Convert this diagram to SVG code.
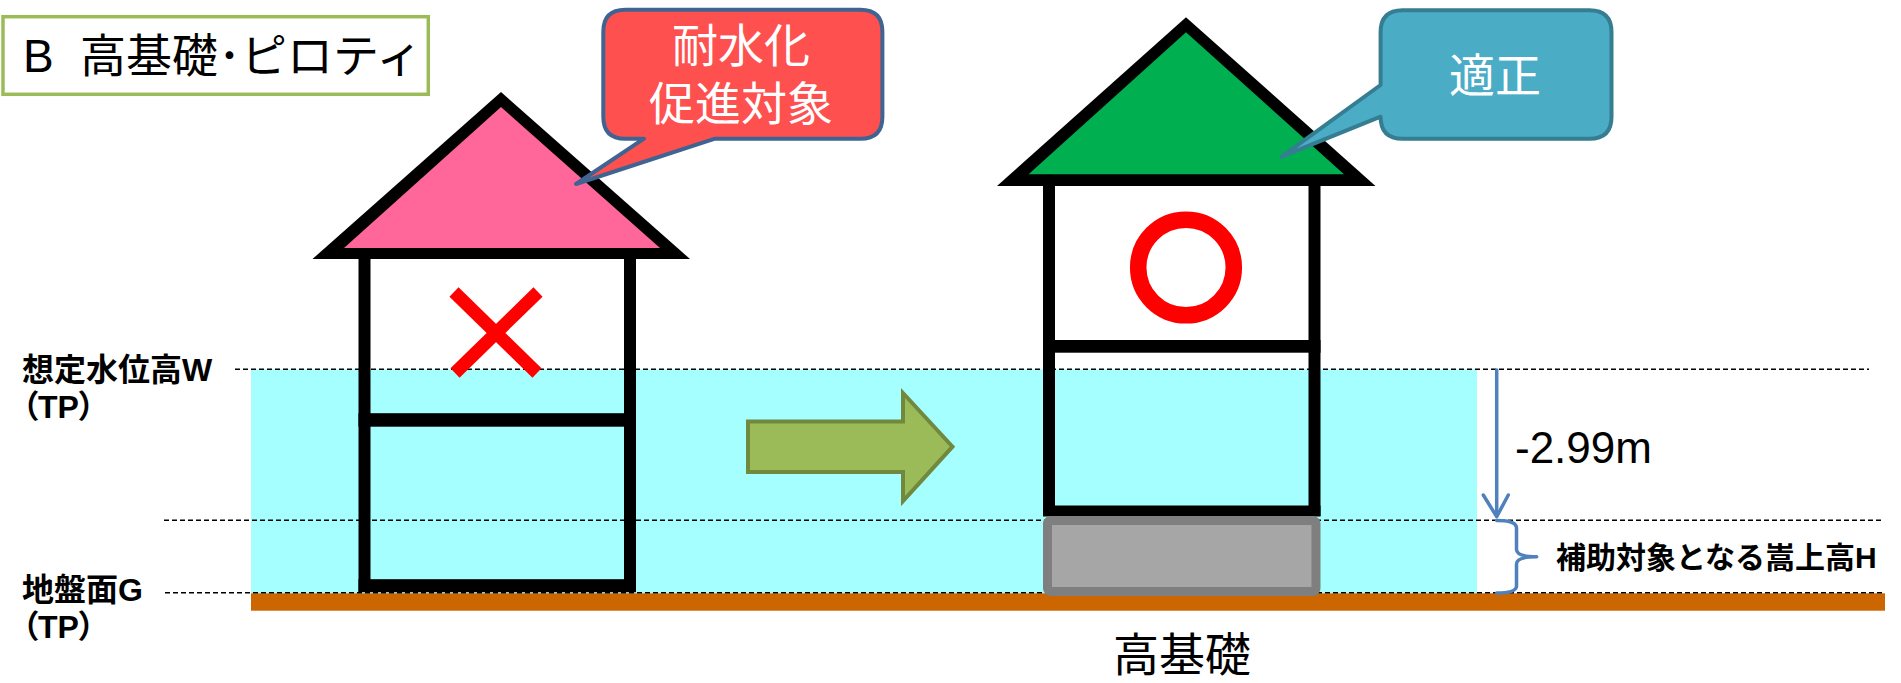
<svg xmlns="http://www.w3.org/2000/svg" width="1901" height="683" viewBox="0 0 1901 683">
  <style>
    .jp { font-family: "Liberation Sans", "Noto Sans CJK JP", sans-serif; }
    .title { font-size: 46px; fill: #000; }
    .lbl { font-size: 32px; font-weight: bold; fill: #000; font-feature-settings: "palt"; }
    .bubble-txt { font-size: 46px; fill: #fff; text-anchor: middle; }
    .level { stroke: #000; stroke-width: 1.5; stroke-dasharray: 5 3; fill: none; }
    .wall { fill: #000; }
    .dim { stroke: #4F81BD; stroke-width: 3.5; fill: none; stroke-linecap: round; stroke-linejoin: round; }
  </style>

  <!-- flood water band and ground surface -->
  <g id="water">
    <rect x="251" y="369.3" width="1226" height="223.7" fill="#A6FFFF"/>
  </g>
  <g id="ground">
    <rect x="251" y="593.3" width="1634" height="17.4" fill="#CC6600"/>
  </g>

  <g id="connectors">
    <!-- reference levels: W, raised height H, ground G -->
    <line class="level" x1="235" y1="369.3" x2="1869" y2="369.3"/>
    <line class="level" x1="164" y1="520.3" x2="1883" y2="520.3"/>
    <line class="level" x1="165" y1="592.7" x2="1885" y2="592.7"/>
  </g>

  <!-- title panel -->
  <g id="title">
    <rect x="3" y="16.7" width="425.3" height="77.6" fill="#fff" stroke="#9BBB59" stroke-width="3.5"/>
    <text class="jp title" y="72"><tspan x="23">B</tspan><tspan x="80">高基礎･ピロティ</tspan></text>
  </g>

  <!-- house at grade level -->
  <g id="house-before">
    <polygon points="501,92 312.5,259 690,259" fill="#000"/>
    <polygon points="501,107 344,248 660,248" fill="#FF6699"/>
    <rect class="wall" x="358.5" y="255" width="12" height="337"/>
    <rect class="wall" x="624" y="255" width="12" height="337"/>
    <rect class="wall" x="358.5" y="413.2" width="277.5" height="13.5"/>
    <rect class="wall" x="358.5" y="579.2" width="277.5" height="13"/>
    <g stroke="#FF0000" stroke-width="13">
      <line x1="454" y1="292" x2="537" y2="373"/>
      <line x1="538" y1="292" x2="455" y2="373"/>
    </g>
  </g>

  <!-- house on raised foundation -->
  <g id="house-after">
    <polygon points="1186,17.3 997,186 1375.5,186" fill="#000"/>
    <polygon points="1186,32.3 1028.6,174.3 1344,174.3" fill="#00B050"/>
    <rect class="wall" x="1043" y="182" width="12" height="334"/>
    <rect class="wall" x="1308.5" y="182" width="12" height="334"/>
    <rect class="wall" x="1043" y="340" width="277.5" height="12.7"/>
    <rect class="wall" x="1043" y="505.5" width="277.5" height="11"/>
    <circle cx="1186" cy="267.5" r="47.8" fill="none" stroke="#FF0000" stroke-width="16.5"/>
  </g>

  <g id="foundation">
    <rect x="1047.5" y="520.5" width="268.5" height="71" rx="3" fill="#A6A6A6" stroke="#7F7F7F" stroke-width="9"/>
    <text class="jp" x="1182" y="671" font-size="46" text-anchor="middle" fill="#000">高基礎</text>
  </g>

  <!-- callouts -->
  <g id="callout-red">
    <path d="M625.3,9.7 H860.4 Q882.4,9.7 882.4,31.7 V116.7 Q882.4,138.7 860.4,138.7 H715 L576,184 L644,138.7 H625.3 Q603.3,138.7 603.3,116.7 V31.7 Q603.3,9.7 625.3,9.7 Z" fill="#FF5050" stroke="#3F6492" stroke-width="4" stroke-linejoin="round"/>
    <text class="jp bubble-txt"><tspan x="741" y="62">耐水化</tspan><tspan x="741" y="120">促進対象</tspan></text>
  </g>

  <g id="callout-teal">
    <path d="M1402.6,10.3 H1589.5 Q1611.5,10.3 1611.5,32.3 V116.7 Q1611.5,138.7 1589.5,138.7 H1402.6 Q1380.6,138.7 1380.6,116.7 L1281.7,156.7 L1380.6,85 V32.3 Q1380.6,10.3 1402.6,10.3 Z" fill="#4BACC6" stroke="#357D91" stroke-width="4" stroke-linejoin="round"/>
    <text class="jp bubble-txt" x="1495" y="92">適正</text>
  </g>

  <!-- transition arrow -->
  <g id="arrow-transition">
    <polygon points="748,421.5 903,421.5 903,393 952.5,446.7 903,501 903,472 748,472" fill="#9BBB59" stroke="#71893F" stroke-width="4"/>
  </g>

  <!-- raise height dimension and bracket -->
  <g id="dimension">
    <line class="dim" x1="1496.7" y1="370" x2="1496.7" y2="516"/>
    <polyline class="dim" points="1483.3,495 1496.7,516.7 1508.3,495"/>
    <path class="dim" d="M1496.7,520.5 Q1516.5,520.5 1516.5,528 V549.5 Q1516.5,556.7 1536.7,556.7 Q1516.5,556.7 1516.5,564 V586 Q1516.5,593 1496.7,593"/>
    <text x="1515" y="463" font-family="'Liberation Sans', Arial, sans-serif" font-size="44" fill="#000">-2.99m</text>
    <text class="jp" x="1556" y="568" font-size="30" font-weight="bold" fill="#000">補助対象となる嵩上高H</text>
  </g>

  <!-- level labels -->
  <g id="level-labels">
    <text class="jp lbl"><tspan x="22" y="381">想定水位高W</tspan><tspan x="22" y="418">（TP）</tspan></text>
    <text class="jp lbl"><tspan x="22" y="601">地盤面G</tspan><tspan x="22" y="638">（TP）</tspan></text>
  </g>
</svg>
